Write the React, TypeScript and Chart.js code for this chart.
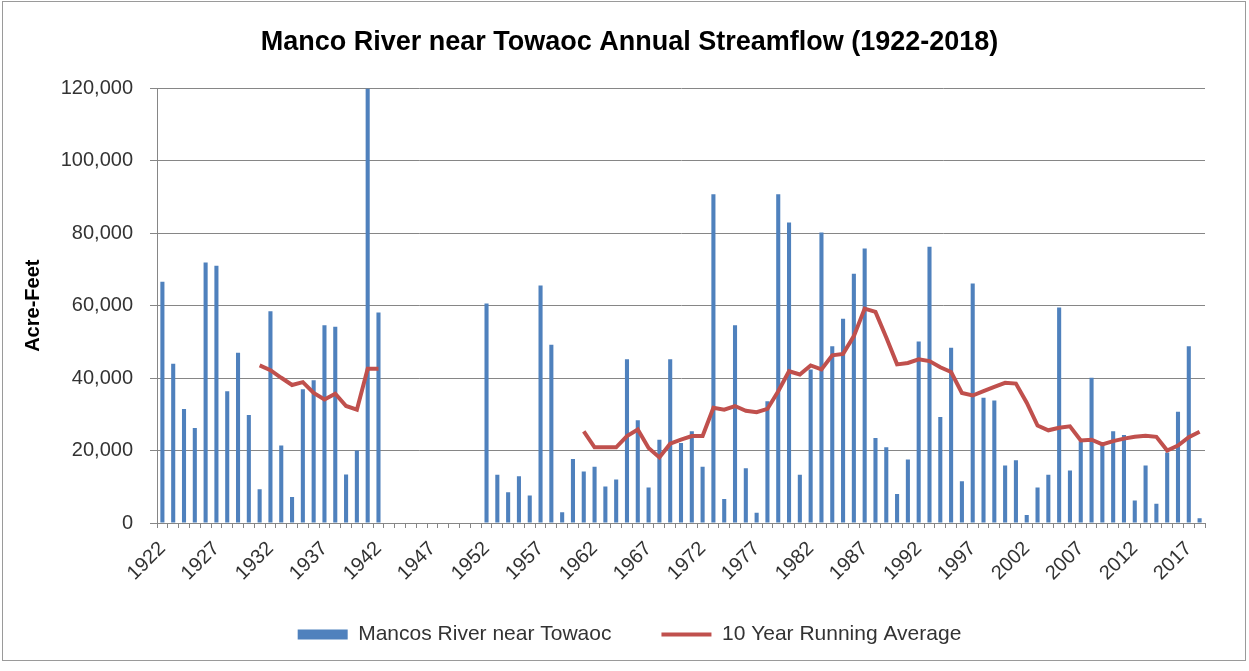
import React, { useEffect, useRef } from "react";
import { Chart, registerables } from "chart.js";

Chart.register(...registerables);

const years: string[] = [
  "1922","1923","1924","1925","1926","1927","1928","1929","1930","1931",
  "1932","1933","1934","1935","1936","1937","1938","1939","1940","1941",
  "1942","1943","1944","1945","1946","1947","1948","1949","1950","1951",
  "1952","1953","1954","1955","1956","1957","1958","1959","1960","1961",
  "1962","1963","1964","1965","1966","1967","1968","1969","1970","1971",
  "1972","1973","1974","1975","1976","1977","1978","1979","1980","1981",
  "1982","1983","1984","1985","1986","1987","1988","1989","1990","1991",
  "1992","1993","1994","1995","1996","1997","1998","1999","2000","2001",
  "2002","2003","2004","2005","2006","2007","2008","2009","2010","2011",
  "2012","2013","2014","2015","2016","2017","2018"
];

const labeledYears: string[] = [
  "1922","1927","1932","1937","1942","1947","1952","1957","1962","1967",
  "1972","1977","1982","1987","1992","1997","2002","2007","2012","2017"
];

const annualFlow: (number | null)[] = [
  66600, 44000, 31500, 26200, 71900, 71000, 36400, 47000, 29800, 9300,
  58500, 21400, 7200, 36900, 39400, 54600, 54200, 13400, 20000, 120000,
  58100, null, null, null, null, null, null, null, null, null,
  60600, 13300, 8500, 12900, 7600, 65600, 49200, 3000, 17700, 14200,
  15500, 10100, 12000, 45200, 28400, 9800, 23000, 45200, 22100, 25300,
  15500, 90800, 6600, 54600, 15100, 2800, 33600, 90800, 83000, 13300,
  42400, 80200, 48800, 56400, 68800, 75800, 23500, 20900, 8000, 17500,
  50100, 76300, 29300, 48400, 11500, 66100, 34600, 33800, 15900, 17300,
  2200, 9800, 13300, 59500, 14500, 22600, 40100, 21700, 25300, 24300,
  6200, 15900, 5300, 19500, 30700, 48800, 1300
];

const runningAverage: (number | null)[] = [
  null, null, null, null, null, null, null, null, null, 43500,
  42200, 40100, 38100, 38900, 35900, 34100, 35700, 32300, 31300, 42600,
  42600, null, null, null, null, null, null, null, null, null,
  null, null, null, null, null, null, null, null, null, 25300,
  20900, 20900, 20900, 24000, 25800, 20700, 18100, 21900, 23000, 24000,
  24000, 31800, 31300, 32300, 31000, 30600, 31500, 36400, 41900, 41000,
  43500, 42400, 46300, 46700, 51600, 59200, 58300, 51200, 43800, 44200,
  45200, 44700, 43000, 41700, 35900, 35200, 36400, 37600, 38700, 38500,
  33200, 26900, 25600, 26300, 26700, 22800, 23000, 21700, 22600, 23300,
  23800, 24100, 23800, 20000, 21400, 23700, 25200
];

const yTicks: number[] = [0, 20000, 40000, 60000, 80000, 100000, 120000];

const FONT = "'Liberation Sans', Arial, sans-serif";

export default function App() {
  const canvasRef = useRef<HTMLCanvasElement | null>(null);

  useEffect(() => {
    const canvas = canvasRef.current;
    if (!canvas) return;

    const borderPlugin = {
      id: "outerBorder",
      beforeDraw(chart: any) {
        const ctx = chart.ctx;
        ctx.save();
        ctx.fillStyle = "#ffffff";
        ctx.fillRect(0, 0, chart.width, chart.height);
        ctx.strokeStyle = "#9a9a9a";
        ctx.lineWidth = 1;
        ctx.strokeRect(2.5, 1.5, 1243, 659);
        ctx.restore();
      },
    };

    // Lift the legend a little so it sits closer to the rotated year labels
    const legendShift = {
      id: "legendShift",
      afterLayout(chart: any) {
        const lg = chart.legend;
        if (lg) {
          lg.top -= 11;
          lg.bottom -= 11;
        }
      },
    };

    const chart = new Chart(canvas, {
      type: "bar",
      data: {
        labels: years,
        datasets: [
          {
            type: "bar",
            label: "Mancos River near Towaoc",
            data: annualFlow,
            backgroundColor: "#4F81BD",
            borderWidth: 0,
            barPercentage: 0.42,
            categoryPercentage: 0.9,
            order: 1,
            pointStyle: "rect",
            yAxisID: "y",
          } as any,
          {
            type: "line",
            label: "10 Year Running Average",
            data: runningAverage,
            borderColor: "#C0504D",
            backgroundColor: "#C0504D",
            borderWidth: 4,
            pointRadius: 0,
            pointHoverRadius: 0,
            tension: 0,
            spanGaps: false,
            order: 0,
            pointStyle: "line",
            yAxisID: "y",
          } as any,
        ],
      },
      options: {
        responsive: false,
        animation: false,
        devicePixelRatio: 1,
        layout: { padding: { left: 10, right: 0, top: 0, bottom: 5 } },
        plugins: {
          title: {
            display: true,
            text: "Manco River near Towaoc Annual Streamflow (1922-2018)",
            color: "#000000",
            font: { family: FONT, size: 27, weight: "bold" },
            padding: { top: 26, bottom: 30 },
          },
          legend: {
            display: true,
            position: "bottom",
            labels: {
              usePointStyle: true,
              pointStyleWidth: 50,
              boxHeight: 10,
              padding: 50,
              color: "#333333",
              font: { family: FONT, size: 21 },
              sort: (a: any, b: any) => a.datasetIndex - b.datasetIndex,
            },
          },
          tooltip: { enabled: false },
        },
        scales: {
          x: {
            offset: true,
            grid: {
              display: true,
              offset: true,
              drawOnChartArea: false,
              drawTicks: true,
              tickLength: 5,
              color: "#868686",
            },
            border: { display: true, color: "#868686" },
            ticks: {
              autoSkip: false,
              minRotation: 45,
              maxRotation: 45,
              padding: 9,
              color: "#333333",
              font: { family: FONT, size: 20 },
              callback: function (this: any, value: any) {
                const lab = years[value as number];
                return labeledYears.includes(lab) ? lab : "";
              },
            },
            afterFit: (scale: any) => {
              scale.height = 62;
            },
          },
          y: {
            min: 0,
            max: 120000,
            afterBuildTicks: (scale: any) => {
              scale.ticks = yTicks.map((v) => ({ value: v }));
            },
            grid: {
              color: "#868686",
              tickLength: 7,
            },
            border: { display: true, color: "#868686" },
            ticks: {
              padding: 17,
              color: "#333333",
              font: { family: FONT, size: 20 },
              callback: (v: any) => Number(v).toLocaleString("en-US"),
            },
            title: {
              display: true,
              text: "Acre-Feet",
              color: "#000000",
              font: { family: FONT, size: 20, weight: "bold" },
              padding: { top: 11, bottom: 0 },
            },
            afterFit: (scale: any) => {
              scale.width = 147;
            },
          },
          yRight: {
            position: "right",
            min: 0,
            max: 120000,
            grid: { display: false, drawTicks: false },
            border: { display: false },
            ticks: { display: false },
            afterFit: (scale: any) => {
              scale.width = 44;
            },
          },
        },
      },
      plugins: [borderPlugin, legendShift],
    } as any);

    return () => {
      chart.destroy();
    };
  }, []);

  return (
    <div
      style={{
        position: "fixed",
        left: 0,
        top: 0,
        width: 1249,
        height: 671,
        background: "#ffffff",
      }}
    >
      <canvas ref={canvasRef} width={1249} height={671} />
    </div>
  );
}
